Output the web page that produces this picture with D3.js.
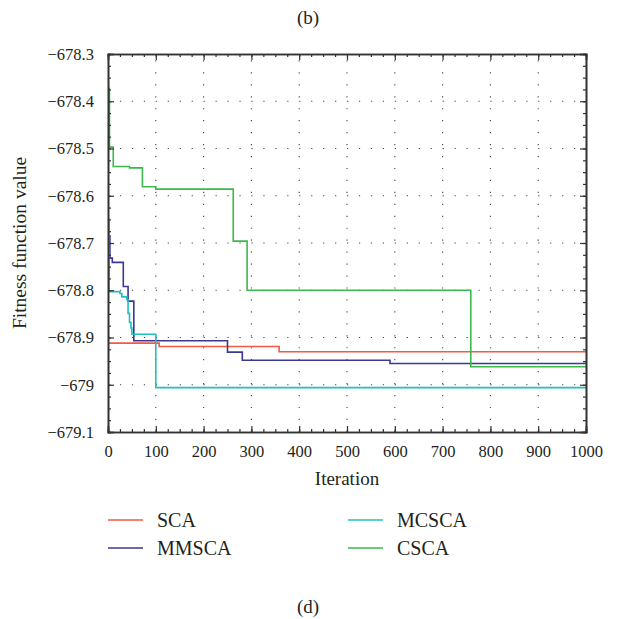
<!DOCTYPE html>
<html>
<head>
<meta charset="utf-8">
<style>
body { margin: 0; background: #fff; }
svg text { font-family: "Liberation Serif", "Times New Roman", serif; fill: #231f20; }
</style>
</head>
<body>
<script src="https://d3js.org/d3.v7.min.js"></script>
<script>
const W = 617, H = 619;

// tick labels
const xTicks = [0, 100, 200, 300, 400, 500, 600, 700, 800, 900, 1000];
const yTicks = [-678.3, -678.4, -678.5, -678.6, -678.7, -678.8, -678.9, -679, -679.1];

// step series: iteration where the value changes, and the value from there on
const scaIter = [0, 107, 358, 1000];
const scaVal = [-678.912, -678.919, -678.930, -678.930];

const mmscaIter = [0, 4, 9, 32, 42, 54, 250, 281, 590, 1000];
const mmscaVal = [-678.685, -678.732, -678.741, -678.792, -678.823, -678.907, -678.931, -678.948, -678.955, -678.955];

const mcscaIter = [0, 2, 25, 29, 39, 42, 45, 48, 50, 100, 1000];
const mcscaVal = [-678.65, -678.803, -678.807, -678.814, -678.820, -678.849, -678.868, -678.880, -678.893, -679.006, -679.006];

const cscaIter = [0, 3, 11, 45, 72, 100, 262, 291, 759, 1000];
const cscaVal = [-678.373, -678.497, -678.538, -678.541, -678.581, -678.586, -678.696, -678.800, -678.962, -678.962];

const series = [
  {name: "SCA", iter: scaIter, val: scaVal, color: "#f15a44"},
  {name: "MMSCA", iter: mmscaIter, val: mmscaVal, color: "#3a3893"},
  {name: "MCSCA", iter: mcscaIter, val: mcscaVal, color: "#22bfbf"},
  {name: "CSCA", iter: cscaIter, val: cscaVal, color: "#3cb94b"}
];

const L = 108, R = 586, T = 54, B = 432;

const svg = d3.select("body").append("svg")
  .attr("width", W).attr("height", H);

const x = d3.scaleLinear().domain([0, 1000]).range([L, R]);
const y = d3.scaleLinear().domain([-678.3, -679.1]).range([T, B]);

const fmt = d => (Math.round(d * 10) / 10).toString().replace("-", "\u2212");

// dotted grid
const grid = svg.append("g").attr("stroke", "#444").attr("stroke-width", 1.1)
  .attr("stroke-dasharray", "1.2,10.75");
grid.selectAll(".gx").data(xTicks.slice(1, -1)).enter().append("line")
  .attr("x1", d => x(d)).attr("x2", d => x(d)).attr("y1", B).attr("y2", T);
grid.selectAll(".gy").data(yTicks.slice(1, -1)).enter().append("line")
  .attr("y1", d => y(d)).attr("y2", d => y(d)).attr("x1", L).attr("x2", R);

// lines
const line = d3.line().curve(d3.curveStepAfter)
  .x(d => x(d[0])).y(d => y(d[1]));
svg.append("g").selectAll("path").data(series).enter().append("path")
  .attr("d", s => line(s.iter.map((t, i) => [t, s.val[i]])))
  .attr("fill", "none").attr("stroke", d => d.color).attr("stroke-width", 1.6);

// axes with inward ticks on all four sides
const minorX = d3.range(0, 1001, 25), minorY = d3.range(0, 33).map(i => -678.3 - i * 0.025);
const ax = svg.append("g").attr("color", "#333");
ax.append("g").attr("transform", `translate(0,${B})`)
  .call(d3.axisBottom(x).tickValues(minorX).tickSize(-3).tickFormat(""));
ax.append("g").attr("transform", `translate(0,${T})`)
  .call(d3.axisTop(x).tickValues(minorX).tickSize(-3).tickFormat(""));
ax.append("g").attr("transform", `translate(${L},0)`)
  .call(d3.axisLeft(y).tickValues(minorY).tickSize(-3).tickFormat(""));
ax.append("g").attr("transform", `translate(${R},0)`)
  .call(d3.axisRight(y).tickValues(minorY).tickSize(-3).tickFormat(""));

const xb = ax.append("g").attr("transform", `translate(0,${B})`)
  .call(d3.axisBottom(x).tickValues(xTicks).tickSize(-6).tickPadding(13).tickFormat(d => d));
ax.append("g").attr("transform", `translate(0,${T})`)
  .call(d3.axisTop(x).tickValues(xTicks).tickSize(-6).tickFormat(""));
const yl = ax.append("g").attr("transform", `translate(${L},0)`)
  .call(d3.axisLeft(y).tickValues(yTicks).tickSize(-6).tickPadding(14).tickFormat(fmt));
ax.append("g").attr("transform", `translate(${R},0)`)
  .call(d3.axisRight(y).tickValues(yTicks).tickSize(-6).tickFormat(""));
ax.selectAll(".domain").attr("stroke-width", 1.6);
ax.selectAll(".tick line").attr("stroke-width", 1.2);
[xb, yl].forEach(g => g.selectAll("text")
  .attr("font-family", "Liberation Serif").attr("font-size", 16.5).attr("fill", "#231f20"));

// titles
svg.append("text").attr("x", (L + R) / 2).attr("y", 485).attr("text-anchor", "middle")
  .attr("font-size", 19).text("Iteration");
svg.append("text").attr("transform", `translate(26,${(T + B) / 2}) rotate(-90)`)
  .attr("text-anchor", "middle").attr("font-size", 19.5).text("Fitness function value");
svg.append("text").attr("x", 308).attr("y", 24).attr("text-anchor", "middle")
  .attr("font-size", 19).text("(b)");
svg.append("text").attr("x", 308).attr("y", 613).attr("text-anchor", "middle")
  .attr("font-size", 19).text("(d)");

// legend
const leg = svg.append("g").selectAll("g").data(series).enter().append("g")
  .attr("transform", (d, i) => `translate(${i < 2 ? 108 : 348},${i % 2 ? 548 : 520})`);
leg.append("line").attr("x1", 0).attr("x2", 35)
  .attr("stroke", d => d.color).attr("stroke-width", 1.6);
leg.append("text").attr("x", 49).attr("y", 6.5).attr("font-size", 20).text(d => d.name);
</script>
</body>
</html>
